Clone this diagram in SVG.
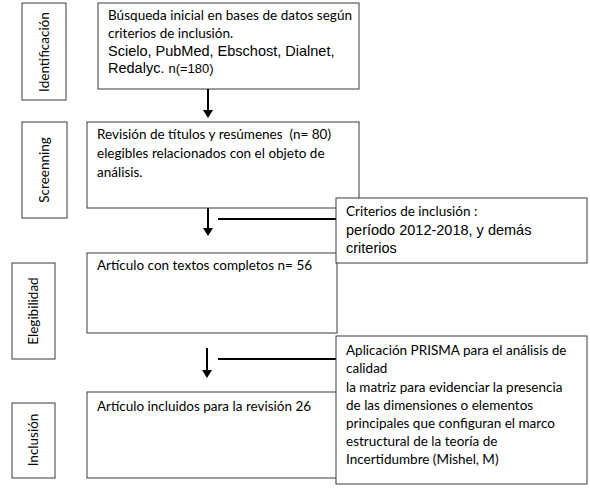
<svg xmlns="http://www.w3.org/2000/svg" width="590" height="493" viewBox="0 0 590 493">
<style>
.box{fill:#fff;stroke:#3a3a3a;stroke-width:1}
.c{font-family:Lato,"Open Sans",sans-serif;font-size:13.5px;fill:#000}
.a{font-family:"Liberation Sans",Arial,sans-serif;font-size:14.5px;fill:#000}
.n{font-family:"Liberation Sans",Arial,sans-serif;font-size:13px}
.con{stroke:#000;stroke-width:2;fill:none}
</style>
<defs>
<marker id="ah" markerWidth="4" markerHeight="5" refX="3" refY="2.5" orient="auto" markerUnits="strokeWidth">
<path d="M0,0 L4,2.5 L0,5 Z" fill="#000"/>
</marker>
</defs>
<g id="lbl-identificacion">
<rect class="box" x="22" y="3" width="44" height="97"/>
<text class="c" transform="translate(49,52) rotate(-90)" text-anchor="middle">Identificación</text>
</g>
<g id="lbl-screenning">
<rect class="box" x="22" y="122" width="45" height="96"/>
<text class="c" transform="translate(49,170) rotate(-90)" text-anchor="middle">Screenning</text>
</g>
<g id="lbl-elegibilidad">
<rect class="box" x="12" y="263" width="43" height="96"/>
<text class="c" transform="translate(38,311) rotate(-90)" text-anchor="middle">Elegibilidad</text>
</g>
<g id="lbl-inclusion">
<rect class="box" x="12" y="403" width="43" height="75"/>
<text class="c" transform="translate(38,440) rotate(-90)" text-anchor="middle">Inclusión</text>
</g>
<g id="n1">
<rect class="box" x="98" y="3" width="261" height="86"/>
<text class="c" x="108" y="20" textLength="244" lengthAdjust="spacing">Búsqueda inicial en bases de datos según</text>
<text class="c" x="108" y="38">criterios de inclusión.</text>
<text class="a" x="108" y="56">Scielo, PubMed, Ebschost, Dialnet,</text>
<text class="a" x="108" y="73">Redalyc. <tspan class="n">n(=180)</tspan></text>
</g>
<g id="n2">
<rect class="box" x="87" y="122" width="272" height="86"/>
<text class="c" x="97" y="139" xml:space="preserve">Revisión de títulos y resúmenes  (n= 80)</text>
<text class="c" x="97" y="158">elegibles relacionados con el objeto de</text>
<text class="c" x="97" y="177">análisis.</text>
</g>
<g id="n3">
<rect class="box" x="87" y="253" width="250" height="80"/>
<text class="c" x="97" y="270">Artículo con textos completos n= 56</text>
</g>
<g id="n4">
<rect class="box" x="87" y="392" width="250" height="86"/>
<text class="c" x="97" y="411">Artículo incluidos para la revisión 26</text>
</g>
<g id="connectors">
<line class="con" x1="208" y1="89" x2="208" y2="116" marker-end="url(#ah)"/>
<line class="con" x1="208" y1="208" x2="208" y2="234" marker-end="url(#ah)"/>
<line class="con" x1="218" y1="219" x2="336" y2="219"/>
<line class="con" x1="207" y1="348" x2="207" y2="376" marker-end="url(#ah)"/>
<line class="con" x1="218" y1="359" x2="336" y2="359"/>
</g>
<g id="n-criterios">
<rect class="box" x="336" y="198" width="251" height="65"/>
<text class="c" x="346" y="216">Criterios de inclusión :</text>
<text class="a" x="346" y="235">período 2012-2018, y demás</text>
<text class="a" x="346" y="253">criterios</text>
</g>
<g id="n-prisma">
<rect class="box" x="336" y="336" width="251" height="148"/>
<text class="c" x="346" y="355">Aplicación PRISMA para el análisis de</text>
<text class="c" x="346" y="373">calidad</text>
<text class="c" x="346" y="392">la matriz para evidenciar la presencia</text>
<text class="c" x="346" y="410">de las dimensiones o elementos</text>
<text class="c" x="346" y="428">principales que configuran el marco</text>
<text class="c" x="346" y="446">estructural de la teoría de</text>
<text class="c" x="346" y="464">Incertidumbre (Mishel, M)</text>
</g>
</svg>
